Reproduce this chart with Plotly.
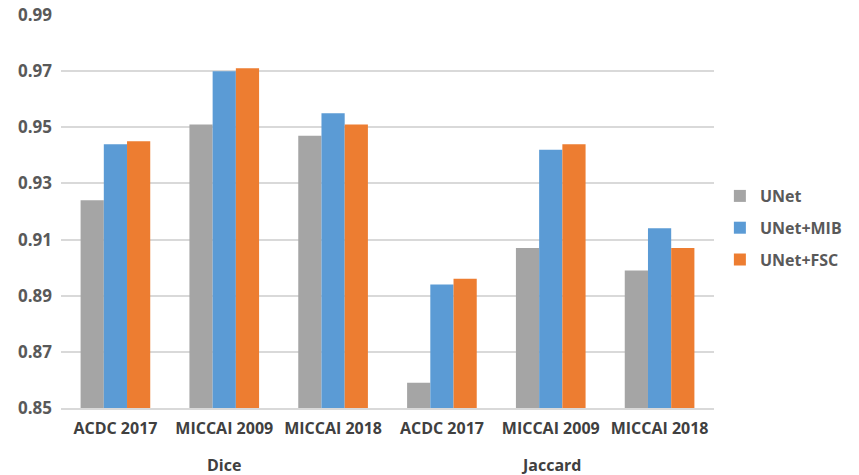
import plotly.graph_objects as go

metrics = ["Dice", "Jaccard"]
datasets = ["ACDC 2017", "MICCAI 2009", "MICCAI 2018",
            "ACDC 2017", "MICCAI 2009", "MICCAI 2018"]
# which metric each bar group belongs to
metric_of = [0, 0, 0, 1, 1, 1]

unet = [0.924, 0.951, 0.947, 0.859, 0.907, 0.899]
unet_mib = [0.944, 0.970, 0.955, 0.894, 0.942, 0.914]
unet_fsc = [0.945, 0.971, 0.951, 0.896, 0.944, 0.907]

y_ticks = [0.85, 0.87, 0.89, 0.91, 0.93, 0.95, 0.97, 0.99]

series = [
    ("UNet", unet, "#a5a5a5"),
    ("UNet+MIB", unet_mib, "#5b9bd5"),
    ("UNet+FSC", unet_fsc, "#ed7d31"),
]

positions = list(range(len(datasets)))

fig = go.Figure()
for name, vals, color in series:
    fig.add_trace(go.Bar(
        x=positions, y=vals, name=name, legendgroup=name,
        marker=dict(color=color, line=dict(width=0)),
    ))

# metric group titles centred under their three dataset groups
for m, label in enumerate(metrics):
    idx = [i for i, g in enumerate(metric_of) if g == m]
    fig.add_annotation(
        x=sum(idx) / len(idx), xref="x",
        y=-0.145, yref="paper", yanchor="middle",
        text=label, showarrow=False,
        font=dict(size=16, color="#404040", family="Open Sans, sans-serif", weight="bold"),
    )

fig.update_layout(
    width=859, height=475,
    margin=dict(l=61, r=145, t=15, b=67, autoexpand=False),
    paper_bgcolor="white", plot_bgcolor="white",
    barmode="group", bargap=0.36, bargroupgap=0,
    font=dict(family="Open Sans, sans-serif", color="#404040"),
    showlegend=True,
    legend=dict(
        x=1.009, y=0.458, xanchor="left", yanchor="middle",
        font=dict(size=16, color="#595959", family="Open Sans, sans-serif", weight="bold"),
        itemwidth=30, tracegroupgap=8,
    ),
    xaxis=dict(
        range=[-0.5, len(datasets) - 0.5],
        tickvals=positions, ticktext=datasets,
        showline=True, linecolor="#d9d9d9", linewidth=1.5,
        ticks="", showgrid=False, zeroline=False,
        ticklabelstandoff=5, automargin=False,
        tickfont=dict(size=16, color="#404040", family="Open Sans, sans-serif", weight="bold"),
    ),
    yaxis=dict(
        range=[0.85, 0.99],
        tickvals=y_ticks,
        ticktext=[f"{v:.2f}" for v in y_ticks],
        showgrid=True, gridcolor="#d9d9d9", gridwidth=1.5,
        zeroline=False, showline=False, ticks="",
        ticklabelstandoff=8, automargin=False,
        tickfont=dict(size=17, color="#595959", family="Open Sans, sans-serif", weight="bold"),
    ),
)

fig.write_html("out.html")
